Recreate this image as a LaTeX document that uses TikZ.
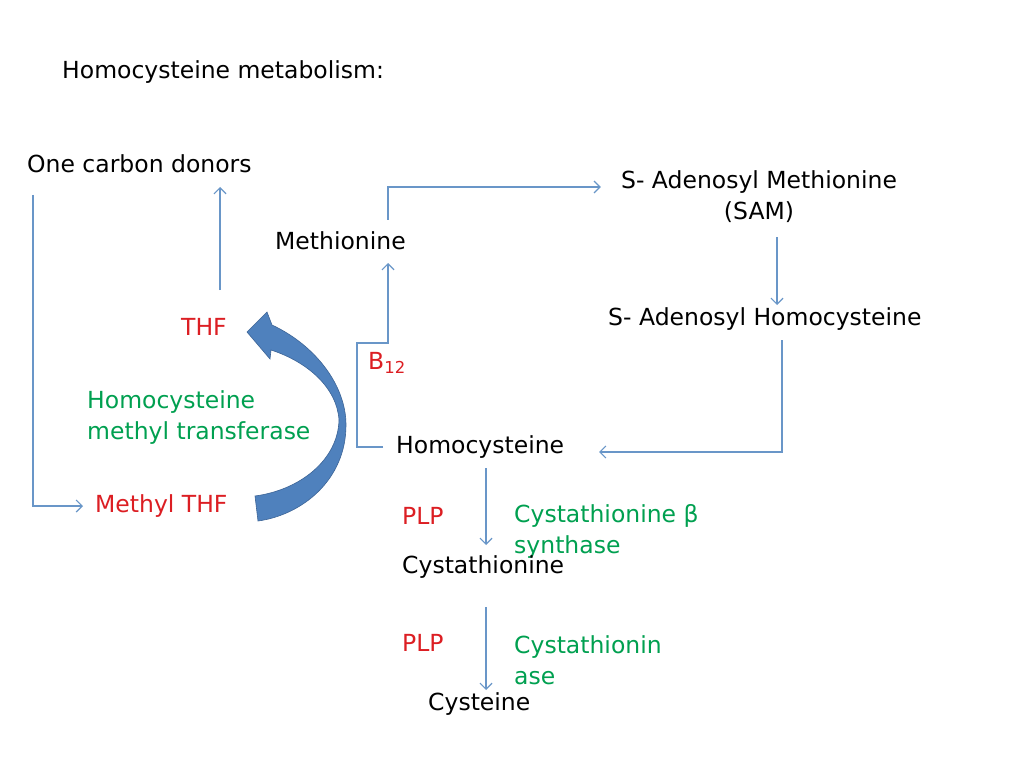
\documentclass[tikz,border=0pt]{standalone}
\usepackage{fontspec}
\setmainfont{DejaVu Sans}
\usetikzlibrary{arrows.meta}
\definecolor{lineblue}{RGB}{105,150,200}
\definecolor{bigblue}{RGB}{79,129,189}
\definecolor{bigedge}{RGB}{60,100,150}
\definecolor{enzred}{RGB}{220,30,35}
\definecolor{enzgreen}{RGB}{0,160,80}
\begin{document}
\begin{tikzpicture}[x=1pt,y=-1pt,
  txt/.style={anchor=west,inner sep=0pt,font=\fontsize{23.5}{31}\selectfont,align=left},
  redtxt/.style={txt,text=enzred},
  greentxt/.style={txt,text=enzgreen},
  flow/.style={draw=lineblue,line width=1.2pt,-{Straight Barb[length=6pt,width=12pt]}}]
\useasboundingbox[fill=white] (0,0) rectangle (1024,767);

\node[txt] (title) at (62,72) {Homocysteine metabolism:};
\node[txt] (ocd) at (27,164) {One carbon donors};
\node[redtxt] (thf) at (181,327) {THF};
\node[redtxt] (mthf) at (95,506) {Methyl THF};
\node[greentxt] (hmt) at (87,418) {Homocysteine\\methyl transferase};
\node[txt] (met) at (275,241) {Methionine};
\node[txt,anchor=center,align=center] (sam) at (759,197) {S- Adenosyl Methionine\\(SAM)};
\node[txt] (sah) at (608,319) {S- Adenosyl Homocysteine};
\node[txt] (hcy) at (396,447) {Homocysteine};
\node[redtxt] (b12) at (368,363) {B\textsubscript{12}};
\node[redtxt] (plp1) at (402,516) {PLP};
\node[greentxt] (cbs) at (514,531) {Cystathionine β\\synthase};
\node[txt] (cth) at (402,567) {Cystathionine};
\node[redtxt] (plp2) at (402,643) {PLP};
\node[greentxt] (cgl) at (514,660) {Cystathionin\\ase};
\node[txt] (cys) at (428,704) {Cysteine};

% one carbon cycle
\draw[flow] ([shift={(6,31)}]ocd.west) |- ([xshift=-12pt]mthf.west);
\draw[flow] ([shift={(39,-37)}]thf.west) -- ([shift={(193,23)}]ocd.west);
\filldraw[fill=bigblue,draw=bigedge,line width=0.6pt]
  (272,325) .. controls (315,345) and (346,385) .. (346,425)
  .. controls (346,480) and (302,515) .. (258,521) -- (255,496)
  .. controls (300,490) and (338,460) .. (339,420)
  .. controls (337,388) and (308,362) .. (271,350)
  -- (270,359) -- (247,332) -- (267,312) -- cycle;

% methionine cycle
\draw[flow] ([shift={(113,-21)}]met.west) |- ([shift={(-20,-10)}]sam.west);
\draw[flow] ([shift={(18,14)}]sam.south) -- ([shift={(169,-14)}]sah.west);
\draw[flow] ([shift={(174,21)}]sah.west) |- ([shift={(203,5)}]hcy.west);
\draw[flow] ([xshift=-13pt]hcy.west) -- ++(-26,0) -- ++(0,-104) -- ++(31,0)
  -- ([shift={(113,22)}]met.west);

% transsulfuration
\draw[flow] ([shift={(90,21)}]hcy.west) -- ([shift={(84,-22)}]cth.west);
\draw[flow] ([shift={(84,40)}]cth.west) -- ([shift={(58,-14)}]cys.west);
\end{tikzpicture}
\end{document}
